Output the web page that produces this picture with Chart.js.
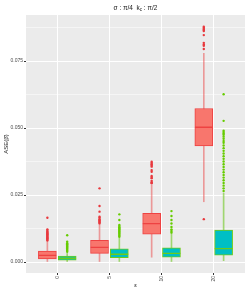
<!DOCTYPE html>
<html>
<head>
<meta charset="utf-8">
<script src="https://cdn.jsdelivr.net/npm/chart.js@4.4.0/dist/chart.umd.min.js"></script>
<style>
  html, body { margin: 0; padding: 0; background: #fff; }
  #wrap { width: 249px; height: 291px; position: relative; }
</style>
</head>
<body>
<div id="wrap"><canvas id="chart"></canvas></div>
<script>
// --- data ---
const categories = ['0', '5', '10', '20'];

// red series (left box of each pair)
const redLow    = [0.0000, 0.0000, 0.0018, 0.0225];
const redQ1     = [0.0012, 0.0032, 0.0104, 0.0433];
const redMedian = [0.0025, 0.0055, 0.0143, 0.0503];
const redQ3     = [0.0041, 0.0081, 0.0182, 0.0573];
const redHigh   = [0.0076, 0.0138, 0.0287, 0.0779];
const redOutliers = [
  [0.0080, 0.0083, 0.0086, 0.0089, 0.0092, 0.0095, 0.0098, 0.0101, 0.0104, 0.0107, 0.0110, 0.0113, 0.0117, 0.0122, 0.0165],
  [0.0144, 0.0148, 0.0152, 0.0156, 0.0160, 0.0165, 0.0169, 0.0188, 0.0209, 0.0275],
  [0.0294, 0.0298, 0.0303, 0.0313, 0.0317, 0.0321, 0.0337, 0.0343, 0.0356, 0.0360, 0.0365, 0.0370, 0.0374],
  [0.0160, 0.0795, 0.0807, 0.0812, 0.0818, 0.0847, 0.0862, 0.0866, 0.0870, 0.0874, 0.0878]
];

// green / teal series (right box of each pair)
const greenLow    = [0.0000, 0.0000, 0.0000, 0.0005];
const greenQ1     = [0.0007, 0.0016, 0.0018, 0.0026];
const greenMedian = [0.0014, 0.0029, 0.0032, 0.0050];
const greenQ3     = [0.0022, 0.0049, 0.0053, 0.0119];
const greenHigh   = [0.0032, 0.0090, 0.0107, 0.0257];
const greenOutliers = [
  [0.0038, 0.0042, 0.0046, 0.0050, 0.0054, 0.0058, 0.0062, 0.0066, 0.0070, 0.0076, 0.0100],
  [0.0094, 0.0098, 0.0102, 0.0106, 0.0110, 0.0114, 0.0118, 0.0122, 0.0126, 0.0130, 0.0134, 0.0138, 0.0157, 0.0178],
  [0.0110, 0.0116, 0.0122, 0.0131, 0.0144, 0.0157, 0.0172, 0.0190],
  [0.0265, 0.0275, 0.0285, 0.0295, 0.0305, 0.0315, 0.0325, 0.0335, 0.0345, 0.0355, 0.0365, 0.0375,
   0.0385, 0.0395, 0.0405, 0.0415, 0.0425, 0.0435, 0.0445, 0.0452, 0.0460, 0.0468, 0.0475, 0.0480,
   0.0485, 0.0490, 0.0527, 0.0626]
];

const yMajorTicks = [0, 0.025, 0.05, 0.075];

// --- layout helpers (category positions on a linear axis) ---
const DODGE = 0.19;
const HALF_BOX = 0.17;
const catPos = i => i + 1;

function boxData(offset, q1, q3) {
  return categories.map((c, i) => ({ x: catPos(i) + offset, y: [q1[i], q3[i]] }));
}
function whiskerData(offset, lo, hi) {
  return categories.map((c, i) => ({ x: catPos(i) + offset, y: [lo[i], hi[i]] }));
}
function medianData(offset, med) {
  const pts = [];
  categories.forEach((c, i) => {
    const x = catPos(i) + offset;
    pts.push({ x: x - HALF_BOX, y: med[i] });
    pts.push({ x: x + HALF_BOX, y: med[i] });
    pts.push({ x: x, y: null });
  });
  return pts;
}
function outlierData(offset, outs) {
  const pts = [];
  outs.forEach((list, i) => list.forEach(v => pts.push({ x: catPos(i) + offset, y: v })));
  return pts;
}

const RED_FILL = '#F8766D', RED_LINE = '#EE4242', RED_WHISK = 'rgba(236,70,70,0.5)';
const TEAL_FILL = '#00BFC4', GREEN_LINE = '#6CCB1A', GREEN_WHISK = 'rgba(110,200,30,0.6)';

// title with a subscript, drawn on the canvas
const titlePlugin = {
  id: 'subTitle',
  afterDraw(chart) {
    const { ctx, chartArea } = chart;
    const cx = (chartArea.left + chartArea.right) / 2;
    const y = 8;
    const parts = [
      { t: 'σ : π/4  k', size: 6.5, dy: 0 },
      { t: 'c', size: 4.5, dy: 1.5 },
      { t: ' : π/2', size: 6.5, dy: 0 }
    ];
    ctx.save();
    ctx.fillStyle = '#1a1a1a';
    ctx.textBaseline = 'middle';
    let w = 0;
    parts.forEach(p => { ctx.font = p.size + 'px "Liberation Sans", Arial, sans-serif'; p.w = ctx.measureText(p.t).width; w += p.w; });
    let x = cx - w / 2;
    parts.forEach(p => {
      ctx.font = p.size + 'px "Liberation Sans", Arial, sans-serif';
      ctx.fillText(p.t, x, y + p.dy);
      x += p.w;
    });
    ctx.restore();
  }
};

// panel background
const panelPlugin = {
  id: 'panelBg',
  beforeDraw(chart) {
    const { ctx, chartArea: a } = chart;
    ctx.save();
    ctx.fillStyle = '#EBEBEB';
    ctx.fillRect(a.left, a.top, a.right - a.left, a.bottom - a.top);
    ctx.restore();
  }
};

const isMajor = v => Math.abs(v / 0.025 - Math.round(v / 0.025)) < 1e-6;

new Chart(document.getElementById('chart'), {
  type: 'bar',
  data: {
    datasets: [
      { type: 'scatter', data: outlierData(-DODGE, redOutliers), backgroundColor: '#E8383D', borderWidth: 0, pointRadius: 1.2, order: 0 },
      { type: 'scatter', data: outlierData(DODGE, greenOutliers), backgroundColor: '#66CC00', borderWidth: 0, pointRadius: 1.2, order: 0 },
      { type: 'line', data: medianData(-DODGE, redMedian), borderColor: RED_LINE, borderWidth: 1.3, pointRadius: 0, spanGaps: false, order: 1 },
      { type: 'line', data: medianData(DODGE, greenMedian), borderColor: GREEN_LINE, borderWidth: 1.3, pointRadius: 0, spanGaps: false, order: 1 },
      { data: boxData(-DODGE, redQ1, redQ3), backgroundColor: RED_FILL, borderColor: RED_LINE, borderWidth: 1, borderSkipped: false, barThickness: 18, grouped: false, order: 2 },
      { data: boxData(DODGE, greenQ1, greenQ3), backgroundColor: TEAL_FILL, borderColor: GREEN_LINE, borderWidth: 1, borderSkipped: false, barThickness: 18, grouped: false, order: 2 },
      { data: whiskerData(-DODGE, redLow, redHigh), backgroundColor: RED_WHISK, barThickness: 1, grouped: false, order: 3 },
      { data: whiskerData(DODGE, greenLow, greenHigh), backgroundColor: GREEN_WHISK, barThickness: 1, grouped: false, order: 3 }
    ]
  },
  options: {
    responsive: true,
    maintainAspectRatio: false,
    animation: false,
    layout: { padding: { top: 15, right: 2, left: 0, bottom: 0 } },
    plugins: { legend: { display: false }, tooltip: { enabled: false } },
    scales: {
      x: {
        type: 'linear',
        min: 0.4,
        max: 4.6,
        offset: false,
        afterBuildTicks: scale => { scale.ticks = categories.map((c, i) => ({ value: catPos(i) })); },
        afterFit: scale => { scale.height = 18; },
        ticks: {
          callback: v => categories[Math.round(v) - 1],
          minRotation: 90, maxRotation: 90, autoSkip: false,
          font: { size: 5, family: '"Liberation Sans", Arial, sans-serif' },
          color: '#4D4D4D', padding: 1
        },
        grid: { color: '#FFFFFF', lineWidth: 1, tickLength: 2, tickColor: '#333333', offset: false, drawOnChartArea: true },
        border: { display: false },
        title: { display: true, text: 'ε', font: { size: 6, family: '"Liberation Sans", Arial, sans-serif' }, color: '#1a1a1a', padding: { top: 0, bottom: 2 } }
      },
      y: {
        min: -0.0041,
        max: 0.0922,
        afterBuildTicks: scale => {
          const t = [];
          for (let k = 0; k <= 7; k++) t.push({ value: k * 0.0125 });
          scale.ticks = t;
        },
        afterFit: scale => { scale.width = 26; },
        ticks: {
          callback: v => (isMajor(v) && yMajorTicks.some(m => Math.abs(m - v) < 1e-9)) ? v.toFixed(3) : '',
          font: { size: 5, family: '"Liberation Sans", Arial, sans-serif' },
          color: '#4D4D4D', padding: 1
        },
        grid: {
          color: '#FFFFFF',
          lineWidth: ctx => (ctx.tick && isMajor(ctx.tick.value)) ? 1 : 0.5,
          tickLength: 2,
          tickColor: ctx => (ctx.tick && isMajor(ctx.tick.value)) ? '#333333' : 'rgba(0,0,0,0)'
        },
        border: { display: false },
        title: { display: true, text: 'ASE(β̂)', font: { size: 6, family: '"Liberation Sans", Arial, sans-serif' }, color: '#1a1a1a', padding: { top: 3, bottom: 0 } }
      }
    }
  },
  plugins: [panelPlugin, titlePlugin]
});
</script>
</body>
</html>
